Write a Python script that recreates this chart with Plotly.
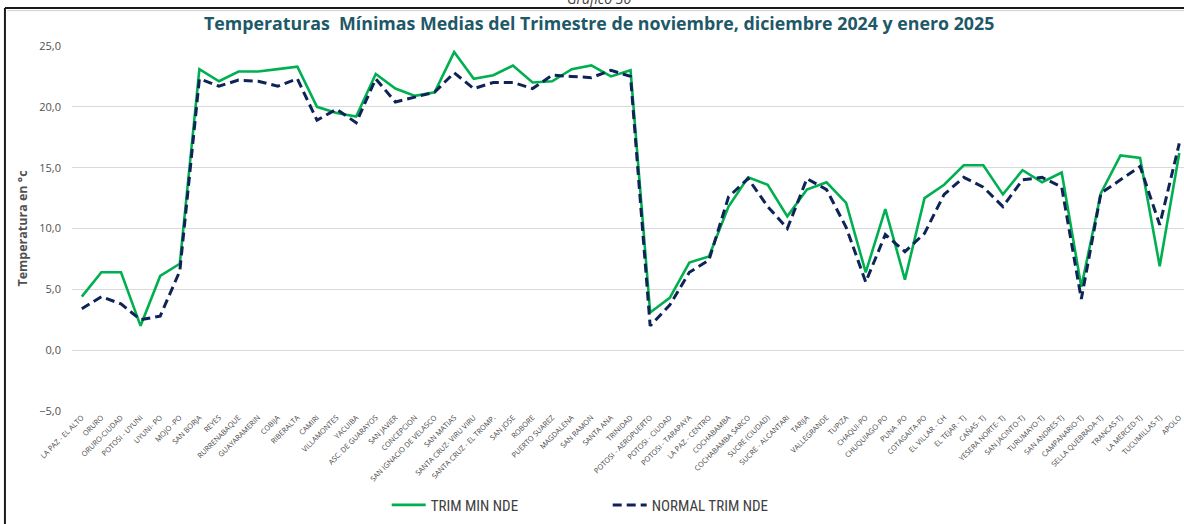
import plotly.graph_objects as go

# Estaciones (categorías del eje X)
estaciones = [
    "LA PAZ - EL ALTO", "ORURO", "ORURO-CIUDAD", "POTOSI - UYUNI", "UYUNI- PO",
    "MOJO -PO", "SAN BORJA", "REYES", "RURRENABAQUE", "GUAYARAMERIN", "COBIJA",
    "RIBERALTA", "CAMIRI", "VILLAMONTES", "YACUIBA", "ASC. DE GUARAYOS",
    "SAN JAVIER", "CONCEPCION", "SAN IGNACIO DE VELASCO", "SAN MATIAS",
    "SANTA CRUZ- VIRU VIRU", "SANTA CRUZ - EL TROMP.", "SAN JOSE", "ROBORE",
    "PUERTO SUAREZ", "MAGDALENA", "SAN RAMON", "SANTA ANA", "TRINIDAD",
    "POTOSI - AEROPUERTO", "POTOSI - CIUDAD", "POTOSI - TARAPAYA",
    "LA PAZ - CENTRO", "COCHABAMBA", "COCHABAMBA SARCO", "SUCRE (CIUDAD)",
    "SUCRE - ALCANTARI", "TARIJA", "VALLEGRANDE", "TUPIZA", "CHAQUI-PO",
    "CHUQUIAGO-PO", "PUNA -PO", "COTAGAITA-PO", "EL VILLAR - CH", "EL TEJAR - TJ",
    "CAÑAS- TJ", "YESERA NORTE- TJ", "SAN JACINTO-TJ", "TURUMAYO-TJ",
    "SAN ANDRES-TJ", "CAMPANARIO-TJ", "SELLA QUEBRADA-TJ", "TRANCAS-TJ",
    "LA MERCED-TJ", "TUCUMILLAS-TJ", "APOLO",
]

# Temperatura mínima media del trimestre (°C)
trim_min_nde = [
    4.4, 6.4, 6.4, 2.0, 6.1, 7.1, 23.1, 22.1, 22.9, 22.9, 23.1,
    23.3, 20.0, 19.5, 19.2, 22.7, 21.5, 20.9, 21.2, 24.5,
    22.3, 22.6, 23.4, 22.0, 22.1, 23.1, 23.4, 22.5, 23.0,
    3.1, 4.3, 7.2, 7.7, 11.8, 14.2, 13.6,
    11.0, 13.2, 13.8, 12.1, 6.4,
    11.6, 5.8, 12.5, 13.6, 15.2,
    15.2, 12.8, 14.8, 13.8,
    14.6, 5.2, 12.9, 16.0,
    15.8, 6.9, 16.2,
]

# Normal climatológica del trimestre (°C)
normal_trim_nde = [
    3.4, 4.4, 3.8, 2.5, 2.8, 6.5, 22.3, 21.7, 22.2, 22.1, 21.7,
    22.3, 18.9, 19.8, 18.7, 22.3, 20.4, 20.8, 21.2, 22.8,
    21.5, 22.0, 22.0, 21.5, 22.6, 22.5, 22.4, 23.0, 22.5,
    2.0, 3.7, 6.4, 7.4, 12.6, 14.1, 11.8,
    10.0, 14.1, 13.2, 10.1, 5.6,
    9.5, 8.1, 9.6, 12.8, 14.2,
    13.4, 11.8, 14.0, 14.2,
    13.4, 4.2, 12.9, 14.0,
    15.1, 10.3, 17.0,
]

verde = "#00B050"
azul = "#0E2356"
gris_txt = "#505050"
teal = "#215868"

fig = go.Figure()
fig.add_trace(go.Scatter(
    x=estaciones, y=trim_min_nde, mode="lines", name="TRIM MIN NDE",
    line=dict(color=verde, width=2.6),
))
fig.add_trace(go.Scatter(
    x=estaciones, y=normal_trim_nde, mode="lines", name="NORMAL TRIM NDE",
    line=dict(color=azul, width=3, dash="9px,5px"),
))

fig.update_layout(
    width=1184, height=524,
    margin=dict(l=72, r=0, t=46, b=113),
    paper_bgcolor="white", plot_bgcolor="white",
    separators=",.",
    showlegend=True,
    legend=dict(
        orientation="h", x=0.283, xanchor="left", y=-0.258, yanchor="middle",
        font=dict(family="Liberation Sans Narrow, Roboto Condensed, Arial Narrow, sans-serif",
                  size=15, color="#404040"),
        entrywidth=172, itemwidth=34,
    ),
    title=dict(
        text="<b>Temperaturas  Mínimas Medias del Trimestre de noviembre, diciembre 2024 y enero 2025</b>",
        x=0.506, xanchor="center", y=0.955, yanchor="middle",
        font=dict(family="Open Sans, sans-serif", size=17.8, color=teal),
    ),
    xaxis=dict(
        type="category", range=[-0.5, 56.24],
        tickangle=-45, showgrid=False, showline=False, ticks="",
        tickfont=dict(family="Open Sans, sans-serif", size=7.3, color="#444444"),
        fixedrange=True,
    ),
    yaxis=dict(
        range=[-5, 25], dtick=5, tick0=0, tickformat=".1f",
        showgrid=True, gridcolor="#D9D9D9", gridwidth=1,
        zeroline=False, showline=False, ticks="",
        tickfont=dict(family="Open Sans, sans-serif", size=11, color=gris_txt),
        ticklabelstandoff=10,
        title=dict(text="<b>Temperatura en °c</b>", standoff=8,
                   font=dict(family="Open Sans, sans-serif", size=12.5, color=gris_txt)),
    ),
    shapes=[
        # marco exterior del gráfico
        dict(type="line", xref="paper", yref="paper",
             x0=-0.0603, x1=1.01, y0=1.104, y1=1.104,
             line=dict(color="#1A1A1A", width=2)),
        dict(type="line", xref="paper", yref="paper",
             x0=-0.0603, x1=-0.0603, y0=1.104, y1=-0.32,
             line=dict(color="#1A1A1A", width=2)),
        dict(type="line", xref="paper", yref="paper",
             x0=-0.058, x1=1.01, y0=1.097, y1=1.097,
             line=dict(color="#D0D0D0", width=1)),
    ],
    annotations=[
        dict(text="<i>Gráfico 30</i>", xref="paper", yref="paper",
             x=0.474, y=1.129, xanchor="center", yanchor="middle", showarrow=False,
             font=dict(family="Open Sans, sans-serif", size=14, color="#404040")),
    ],
)

fig.write_html("out.html")
